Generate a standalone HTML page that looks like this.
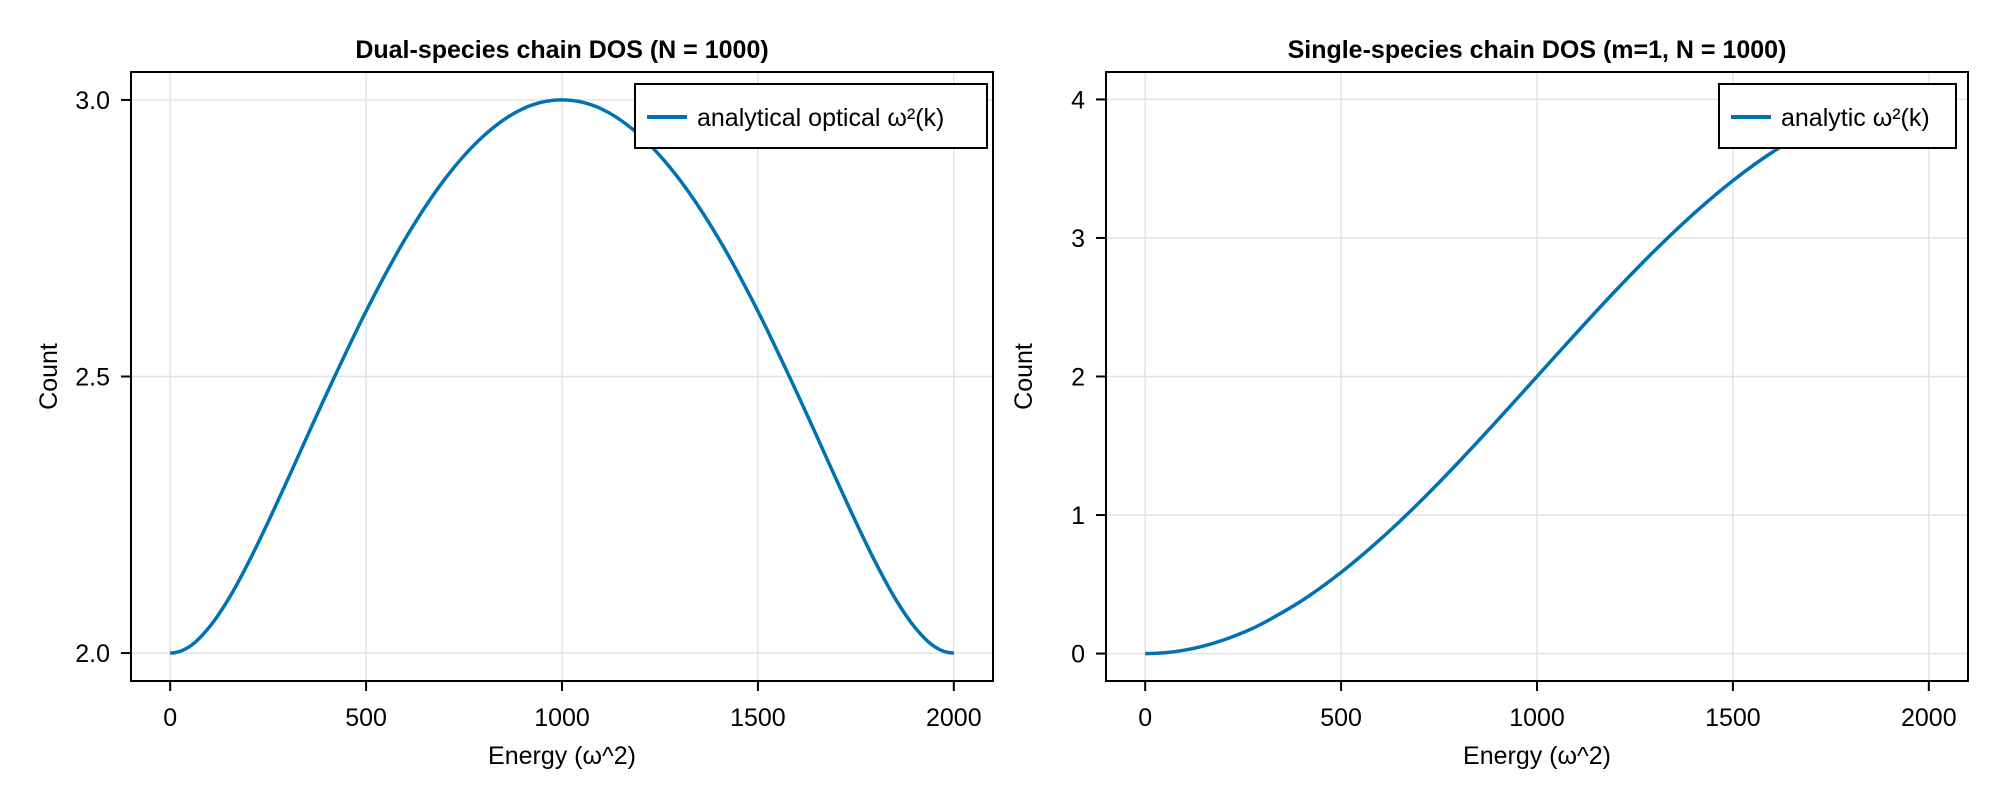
<!DOCTYPE html>
<html><head><meta charset="utf-8"><style>
html,body{margin:0;padding:0;background:#fff;}
svg{display:block;font-family:"Liberation Sans",sans-serif;}
</style></head><body>
<svg id="chart" width="2000" height="800" viewBox="0 0 2000 800"></svg>
<script>
const xTicks = [0, 500, 1000, 1500, 2000];
const leftYTicks = [2.0, 2.5, 3.0];
const leftYTickLabels = ["2.0", "2.5", "3.0"];
const rightYTicks = [0, 1, 2, 3, 4];
const rightYTickLabels = ["0", "1", "2", "3", "4"];
const energyX = [0,50,100,150,200,250,300,400,500,600,700,800,900,1000,1100,1200,1300,1400,1500,1600,1700,1750,1800,1850,1900,1950,2000];
const opticalValues = [2.000,2.012,2.047,2.099,2.164,2.237,2.314,2.470,2.618,2.749,2.856,2.935,2.984,3.000,2.984,2.935,2.856,2.749,2.618,2.470,2.314,2.237,2.164,2.099,2.047,2.012,2.000];
const singleValues = [0,0.0062,0.0246,0.0553,0.0979,0.1522,0.2180,0.3820,0.5858,0.8244,1.0920,1.3820,1.6871,2.0,2.3129,2.6180,2.9080,3.1756,3.4142,3.6180,3.7820,3.8478,3.9021,3.9447,3.9754,3.9938,4.0];

const NS = "http://www.w3.org/2000/svg";
const svg = document.getElementById("chart");
function mk(tag, attrs, parent) {
  const e = document.createElementNS(NS, tag);
  for (const k in attrs) e.setAttribute(k, attrs[k]);
  (parent || svg).appendChild(e);
  return e;
}
function smoothPath(pts) {
  const n = pts.length;
  const first = [2 * pts[0][0] - pts[1][0], pts[1][1]];
  const last = [2 * pts[n - 1][0] - pts[n - 2][0], pts[n - 2][1]];
  let d = "M" + pts[0][0] + "," + pts[0][1];
  for (let i = 0; i < n - 1; i++) {
    const p0 = i === 0 ? first : pts[i - 1], p1 = pts[i], p2 = pts[i + 1], p3 = i + 2 < n ? pts[i + 2] : last;
    const c1x = p1[0] + (p2[0] - p0[0]) / 6, c1y = p1[1] + (p2[1] - p0[1]) / 6;
    const c2x = p2[0] - (p3[0] - p1[0]) / 6, c2y = p2[1] - (p3[1] - p1[1]) / 6;
    d += " C" + c1x + "," + c1y + " " + c2x + "," + c2y + " " + p2[0] + "," + p2[1];
  }
  return d;
}
function panel(cfg) {
  const g = mk("g", {});
  
  
  const L = cfg.left, R = cfg.right, T = 72, B = 681;
  const xs = v => L + (v - cfg.xmin) / (cfg.xmax - cfg.xmin) * (R - L);
  const ys = v => B - (v - cfg.ymin) / (cfg.ymax - cfg.ymin) * (B - T);
  xTicks.forEach(t => {
    const l = mk("line", {x1: xs(t), x2: xs(t), y1: T, y2: B, stroke: "#e3e3e3", "stroke-width": 1.5}, g);
    
    
  });
  cfg.yTicks.forEach(t => {
    const l = mk("line", {x1: L, x2: R, y1: ys(t), y2: ys(t), stroke: "#e3e3e3", "stroke-width": 1.5}, g);
    
    
  });
  const pts = energyX.map((x, i) => [xs(x), ys(cfg.values[i])]);
  const p = mk("path", {d: smoothPath(pts), fill: "none", stroke: "#0072b2", "stroke-width": 3.5, "stroke-linejoin": "round"}, g);
  
  
  const f = mk("rect", {x: L, y: T, width: R - L, height: B - T, fill: "none", stroke: "#000", "stroke-width": 2}, g);
  
  
  xTicks.forEach(t => {
    mk("line", {x1: xs(t), x2: xs(t), y1: B, y2: B + 10, stroke: "#000", "stroke-width": 2}, g);
    const tx = mk("text", {x: xs(t), y: 726, "font-size": 25, "text-anchor": "middle"}, g);
    tx.textContent = String(t);
    
    
  });
  cfg.yTicks.forEach((t, i) => {
    mk("line", {x1: L - 10, x2: L, y1: ys(t), y2: ys(t), stroke: "#000", "stroke-width": 2}, g);
    const tx = mk("text", {x: L - 21, y: ys(t) + 9, "font-size": 25, "text-anchor": "end"}, g);
    tx.textContent = cfg.yLabels[i];
    
    
  });
  const title = mk("text", {x: (L + R) / 2, y: 58, "font-size": 25, "font-weight": "bold", "text-anchor": "middle"}, g);
  title.textContent = cfg.title;
  
  
  const xl = mk("text", {x: (L + R) / 2, y: 764, "font-size": 25, "text-anchor": "middle"}, g);
  xl.textContent = "Energy (ω^2)";
  
  
  const yl = mk("text", {x: 0, y: 0, "font-size": 25, "text-anchor": "middle", transform: "translate(" + (L - 74) + "," + ((T + B) / 2) + ") rotate(-90)"}, g);
  yl.textContent = "Count";
  
  
  const lg = mk("g", {}, g);
  
  
  mk("rect", {x: cfg.legL, y: 84, width: cfg.legR - cfg.legL, height: 64, fill: "#fff", stroke: "#000", "stroke-width": 2}, lg);
  mk("line", {x1: cfg.legL + 12, x2: cfg.legL + 52, y1: 117, y2: 117, stroke: "#0072b2", "stroke-width": 4}, lg);
  const lt = mk("text", {x: cfg.legL + 62, y: 126, "font-size": 25}, lg);
  lt.textContent = cfg.legendText;
  
  
}
panel({name: "dual-species-panel", left: 131, right: 993, xmin: -100, xmax: 2100, ymin: 1.9495, ymax: 3.0505,
  yTicks: leftYTicks, yLabels: leftYTickLabels, values: opticalValues, seriesName: "optical-branch-line",
  title: "Dual-species chain DOS (N = 1000)", legL: 635, legR: 987, legendText: "analytical optical ω²(k)"});
panel({name: "single-species-panel", left: 1106, right: 1968, xmin: -100, xmax: 2100, ymin: -0.198, ymax: 4.198,
  yTicks: rightYTicks, yLabels: rightYTickLabels, values: singleValues, seriesName: "single-species-line",
  title: "Single-species chain DOS (m=1, N = 1000)", legL: 1719, legR: 1956, legendText: "analytic ω²(k)"});
</script>
</body></html>
